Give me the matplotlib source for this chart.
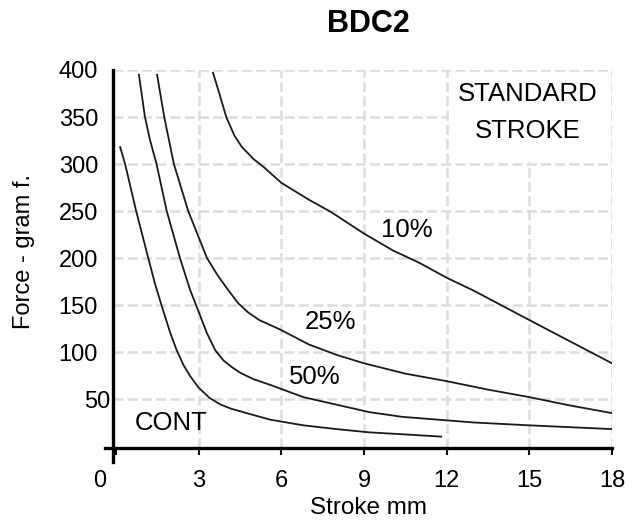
import matplotlib
matplotlib.use("Agg")
import matplotlib.pyplot as plt
import matplotlib.transforms as mtransforms

plt.rcParams['font.family'] = ['Liberation Sans', 'DejaVu Sans']

# curves: stroke (mm) vs force (gram f.)
cont_x = [0.15, 0.33, 0.73, 1.17, 1.42, 1.67, 1.95, 2.2, 2.45, 2.7, 3.0, 3.4, 3.8, 4.2, 4.86, 5.6, 6.8, 8.0, 9.2, 10.4, 11.8]
cont_y = [318, 300, 250, 200, 172, 148, 122, 102, 86, 74, 62, 51, 44, 39.5, 34, 28, 22, 18, 14.5, 12.5, 10]

p50_x = [0.83, 1.05, 1.23, 1.47, 1.84, 2.32, 2.69, 2.93, 3.3, 3.6, 3.9, 4.2, 4.5, 5.0, 5.6, 6.8, 8.0, 9.2, 10.4, 11.7, 13.0, 15.0, 18.0]
p50_y = [395, 350, 326, 300, 250, 200, 166, 148, 120, 102, 91, 84, 78, 71, 65, 52, 44, 36, 31, 28, 25, 22, 18]

p25_x = [1.49, 1.75, 2.1, 2.62, 3.3, 3.7, 4.07, 4.43, 4.8, 5.2, 5.95, 7.0, 8.0, 9.0, 10.5, 12.0, 13.5, 15.0, 16.5, 18.0]
p25_y = [395, 350, 300, 250, 200, 181, 166, 152, 142, 134, 124, 108, 97, 88, 77, 69, 60, 52, 43, 35]

p10_x = [3.52, 3.75, 4.0, 4.3, 4.57, 5.0, 5.35, 6.0, 7.0, 7.8, 9.0, 10.05, 11.0, 12.0, 13.0, 15.0, 16.5, 18.0]
p10_y = [397, 375, 350, 330, 318, 305, 297, 280, 262, 249, 226, 208, 195, 179, 165, 134, 111, 88]

xticks = [0, 3, 6, 9, 12, 15, 18]
yticks = [50, 100, 150, 200, 250, 300, 350, 400]

fig = plt.figure(figsize=(6.41, 5.24), dpi=100)
ax = fig.add_axes([105 / 641, 1 - 462 / 524, 507 / 641, 392 / 524])
ax.set_xlim(-0.4, 18)
ax.set_ylim(-17, 400)

# dashed grid, kept inside the plot area
grid_kw = dict(color='#dcdcdc', linewidth=1.8, linestyles=(0, (4, 1.7)), zorder=1)
ax.vlines(xticks[1:], -2, 400, **grid_kw)
ax.hlines(yticks, -0.1, 18, **grid_kw)

# white box behind the "standard stroke" note
ax.fill_between([12.1, 17.9], 302, 398, color='white', zorder=2, linewidth=0)

for xs, ys in [(cont_x, cont_y), (p50_x, p50_y), (p25_x, p25_y), (p10_x, p10_y)]:
    ax.plot(xs, ys, color='#1a1a1a', linewidth=1.3, zorder=3)

ax.text(10.56, 230, '10%', fontsize=18.5, ha='center', va='center', zorder=4)
ax.text(7.77, 132, '25%', fontsize=18.5, ha='center', va='center', zorder=4)
ax.text(7.22, 73, '50%', fontsize=18.5, ha='center', va='center', zorder=4)
ax.text(1.99, 24.5, 'CONT', fontsize=18.5, ha='center', va='center', zorder=4)
ax.text(14.95, 374, 'STANDARD', fontsize=18.5, ha='center', va='center', zorder=4)
ax.text(14.95, 335, 'STROKE', fontsize=18.5, ha='center', va='center', zorder=4)

# axes lines crossing near the origin
for s in ['top', 'right']:
    ax.spines[s].set_visible(False)
ax.spines['left'].set_position(('data', -0.1))
ax.spines['bottom'].set_position(('data', -2))
ax.spines['left'].set_linewidth(2.4)
ax.spines['bottom'].set_linewidth(2.4)
ax.spines['left'].set_zorder(5)
ax.spines['bottom'].set_zorder(5)

ax.set_xticks(xticks)
ax.set_yticks(yticks)
ax.tick_params(axis='x', direction='out', length=5, width=1.5, pad=11, labelsize=17)
ax.tick_params(axis='y', length=0, pad=11, labelsize=17)

fig.canvas.draw()
# the "0" and "50" labels sit a bit off in the original
xl = ax.get_xticklabels()
xl[0].set_transform(xl[0].get_transform() + mtransforms.ScaledTranslation(-16 / 100, 0, fig.dpi_scale_trans))
yl = ax.get_yticklabels()
yl[0].set_transform(yl[0].get_transform() + mtransforms.ScaledTranslation(12 / 100, 0, fig.dpi_scale_trans))

ax.set_xlabel('Stroke mm', fontsize=17.5)
ax.xaxis.set_label_coords(0.519, -0.089)
ax.set_ylabel('Force - gram f.', fontsize=17)
ax.yaxis.set_label_coords(-0.138, 0.538)

fig.text(368 / 641, 1 - 24 / 524, 'BDC2', fontsize=22, fontweight='bold', ha='center', va='center')

fig.savefig('out.png', dpi=100)
